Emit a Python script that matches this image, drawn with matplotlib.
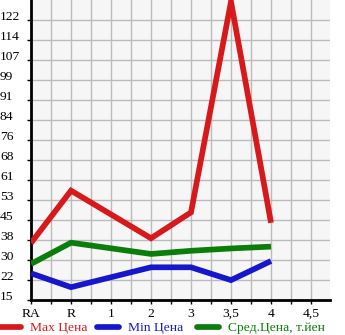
import numpy as np
import matplotlib
matplotlib.use("Agg")
import matplotlib.pyplot as plt

categories = ["RA", "R", "1", "2", "3", "3,5", "4", "4,5"]
max_price = [36.8, 56.8, np.nan, 38.6, 48.5, 129.0, 44.5, np.nan]
min_price = [25.2, 19.9, np.nan, 27.5, 27.5, 22.6, 29.9, np.nan]
avg_price = [28.8, 36.9, np.nan, 32.6, 33.8, 34.7, 35.4, np.nan]
ytick_vals = [15 + i * 107 / 14 for i in range(15)]
ytick_labels = ["15", "22", "30", "38", "45", "53", "61", "68", "76", "84",
                "91", "99", "107", "114", "122"]
series_names = ["Max Цена", "Min Цена", "Сред.Цена, т.йен"]
colors = ["#d7191c", "#1616cc", "#0a7d0a"]

plt.rcParams['font.family'] = ['Liberation Serif', 'DejaVu Serif']
FS = 9.7

W, H = 345, 335
fig = plt.figure(figsize=(W / 100, H / 100), dpi=100)
ax = fig.add_axes([31 / W, (H - 300) / H, (330 - 31) / W, 300 / H])
ax.set_facecolor("#f6f6f6")

x = np.arange(len(categories))
lines = []
for vals, c, name in zip([max_price, min_price, avg_price], colors, series_names):
    v = np.array(vals, dtype=float)
    m = ~np.isnan(v)
    ln, = ax.plot(x[m], v[m], color=c, lw=4.1, solid_capstyle='butt',
                  solid_joinstyle='miter', label=name, zorder=3)
    lines.append(ln)

ax.set_ylim(15, 15 + 300 * 107 / 280)
ax.set_xlim(0, 299 / 40)

xt = np.arange(0, 7.5, 0.5)
ax.set_xticks(xt)
ax.set_xticklabels([categories[int(t)] if t == int(t) else "" for t in xt], fontsize=FS)
ax.set_yticks(ytick_vals)
ax.set_yticklabels(ytick_labels, fontsize=FS)
for lab in ax.get_yticklabels():
    lab.set_ha('left')
    lab.set_va('baseline')
ax.tick_params(axis='y', length=3, width=1, direction='out', pad=31 * 0.72 - 3)
ax.tick_params(axis='x', length=3, width=1, direction='out', pad=2.5)

ax.grid(True, color="#bbbbbb", lw=1)
ax.set_axisbelow(True)
for s in ["top", "right"]:
    ax.spines[s].set_visible(False)
ax.spines["left"].set_linewidth(2)
ax.spines["bottom"].set_linewidth(2)

fs_px = FS * 100 / 72
for ln, x0 in zip(lines, [0, 98, 198]):
    leg = fig.legend(handles=[ln], loc='center left',
                     bbox_to_anchor=(x0 / W - 0.003, 7 / H),
                     frameon=False, fontsize=FS, handlelength=22 / fs_px,
                     handletextpad=9 / fs_px, borderpad=0, borderaxespad=0,
                     labelcolor='linecolor')
    for h in leg.get_lines():
        h.set_solid_capstyle('round')

fig.savefig("out.png", dpi=100)
